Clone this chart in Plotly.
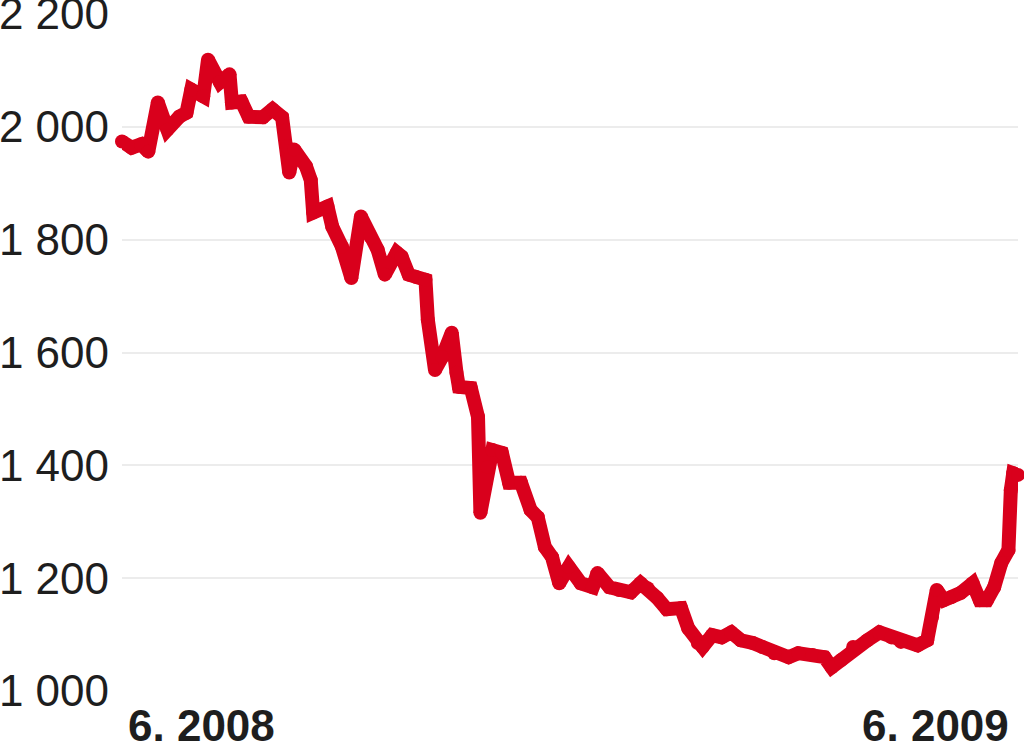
import plotly.graph_objects as go

# index value
dates = ["2008-06-02", "2008-06-06", "2008-06-10", "2008-06-13", "2008-06-17", "2008-06-21",
         "2008-06-26", "2008-06-29", "2008-07-01", "2008-07-06", "2008-07-08", "2008-07-13",
         "2008-07-17", "2008-07-18", "2008-07-22", "2008-07-25", "2008-07-31", "2008-08-04",
         "2008-08-08", "2008-08-10", "2008-08-11", "2008-08-13", "2008-08-18", "2008-08-20",
         "2008-08-21", "2008-08-27", "2008-08-29", "2008-09-02", "2008-09-06", "2008-09-10",
         "2008-09-14", "2008-09-17", "2008-09-20", "2008-09-25", "2008-09-27", "2008-09-30",
         "2008-10-03", "2008-10-07", "2008-10-08", "2008-10-11", "2008-10-14", "2008-10-18",
         "2008-10-20", "2008-10-21", "2008-10-26", "2008-10-29", "2008-10-30", "2008-11-02",
         "2008-11-04", "2008-11-08", "2008-11-11", "2008-11-16", "2008-11-20", "2008-11-23",
         "2008-11-26", "2008-11-29", "2008-12-02", "2008-12-06", "2008-12-11", "2008-12-16",
         "2008-12-18", "2008-12-23", "2008-12-27", "2009-01-01", "2009-01-05", "2009-01-08",
         "2009-01-12", "2009-01-16", "2009-01-22", "2009-01-25", "2009-01-29", "2009-01-31",
         "2009-02-04", "2009-02-08", "2009-02-12", "2009-02-16", "2009-02-21", "2009-02-25",
         "2009-03-02", "2009-03-08", "2009-03-12", "2009-03-18", "2009-03-23", "2009-03-26",
         "2009-03-30", "2009-04-04", "2009-04-10", "2009-04-15", "2009-04-20", "2009-04-24",
         "2009-05-01", "2009-05-05", "2009-05-07", "2009-05-09", "2009-05-12", "2009-05-15",
         "2009-05-19", "2009-05-24", "2009-05-27", "2009-05-30", "2009-06-02", "2009-06-05",
         "2009-06-08", "2009-06-09", "2009-06-10", "2009-06-12"]
values = [1974, 1963, 1969, 1956, 2043, 1995,
          2018, 2025, 2066, 2054, 2119, 2079,
          2093, 2043, 2045, 2018, 2017, 2031,
          2017, 1965, 1919, 1960, 1930, 1906,
          1848, 1859, 1823, 1788, 1732, 1841,
          1805, 1782, 1738, 1777, 1770, 1738,
          1734, 1729, 1658, 1569, 1592, 1635,
          1564, 1539, 1537, 1486, 1316, 1397,
          1427, 1422, 1369, 1369, 1321, 1308,
          1255, 1237, 1191, 1220, 1191, 1184,
          1209, 1184, 1179, 1175, 1191, 1182,
          1165, 1145, 1147, 1111, 1085, 1078,
          1099, 1095, 1104, 1090, 1085, 1078,
          1067, 1060, 1067, 1064, 1060, 1042,
          1055, 1078, 1090, 1104, 1095, 1087,
          1081, 1090, 1131, 1179, 1161, 1166,
          1174, 1191, 1161, 1161, 1184, 1227,
          1250, 1356, 1386, 1383]

y_ticks = [1000, 1200, 1400, 1600, 1800, 2000, 2200]
grid_ticks = [1200, 1400, 1600, 1800, 2000]
x_labels = ["6. 2008", "6. 2009"]

red = "#d9001c"
lab_font = dict(size=44, family="Liberation Sans", color="#1e1e1e", weight="bold")

fig = go.Figure()
# markers on every point round off the joins of the thick line
fig.add_trace(go.Scatter(x=dates, y=values, mode="lines+markers",
                         line=dict(color=red, width=14),
                         marker=dict(color=red, size=14, line=dict(width=0)),
                         cliponaxis=False, showlegend=False, hoverinfo="skip"))
# second axis only for the grid lines (none at 1000 and 2200)
fig.add_trace(go.Scatter(x=dates[:1], y=values[:1], yaxis="y2", mode="lines",
                         showlegend=False, hoverinfo="skip", line=dict(width=0)))

fig.add_annotation(x=dates[0], y=0, xref="x", yref="paper", text=x_labels[0],
                   xanchor="left", yanchor="top", xshift=4, yshift=-8, showarrow=False,
                   font=lab_font)
fig.add_annotation(x=dates[-1], y=0, xref="x", yref="paper", text=x_labels[1],
                   xanchor="right", yanchor="top", xshift=-7, yshift=-8, showarrow=False,
                   font=lab_font)

fig.update_layout(
    width=1024, height=745,
    margin=dict(l=122, r=6, t=14, b=54),
    paper_bgcolor="white", plot_bgcolor="white",
    separators=", ",
    font=dict(family="Liberation Sans", size=44, color="#1e1e1e"),
    xaxis=dict(range=[dates[0], dates[-1]], showgrid=False, zeroline=False,
               showticklabels=False, ticks="", automargin=False),
    yaxis=dict(range=[1000, 2200], tickvals=y_ticks, tickformat=",d",
               showgrid=False, zeroline=False, ticks="", ticklabelstandoff=12,
               ticklabeloverflow="allow", automargin=False),
    yaxis2=dict(range=[1000, 2200], overlaying="y", side="left", tickvals=grid_ticks,
                showticklabels=False, showgrid=True, gridcolor="#ececec", gridwidth=2,
                zeroline=False, ticks="", layer="below traces", automargin=False),
)

# the page's default body margin would push the chart 8px right and down
fig.write_html("out.html", config={"displayModeBar": False},
               post_script="document.body.style.margin='0';")
